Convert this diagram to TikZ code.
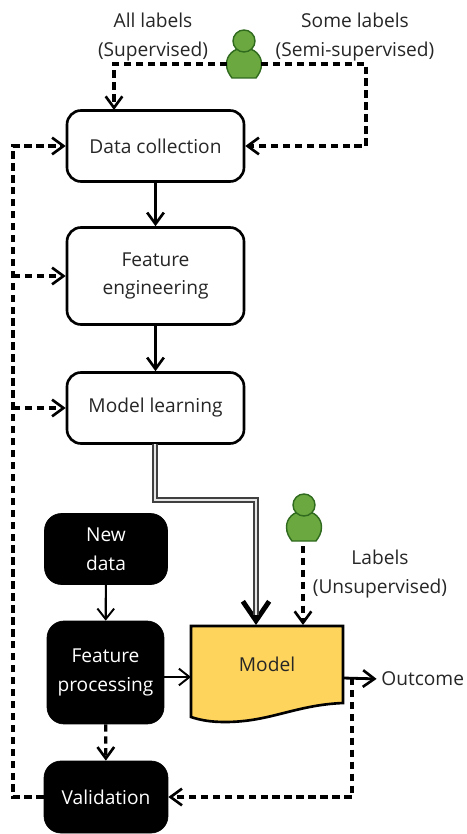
\documentclass[tikz,border=0pt]{standalone}
\usepackage{fontspec}
\setmainfont{Open Sans}
\usetikzlibrary{arrows.meta}
\definecolor{usergreen}{HTML}{6BA83F}
\definecolor{userdark}{HTML}{2F6A1E}
\definecolor{modelyellow}{HTML}{FFD45C}
\definecolor{textdark}{HTML}{262626}
\begin{document}
\begin{tikzpicture}[
    x=0.02cm, y=-0.02cm,
    every node/.style={font=\fontsize{10.9}{16.4}\selectfont, text=textdark, align=center, inner sep=0pt},
    stage/.style={draw=black, line width=1.5pt, fill=white, rounded corners=0.28cm, minimum width=3.54cm},
    blackstage/.style={draw=black, fill=black, text=white, rounded corners=0.34cm},
    arrow/.style={-{Straight Barb[length=6.5pt,width=9.5pt,line width=1.5pt]}, line width=1.6pt},
    dasharrow/.style={arrow, line width=1.9pt, dash pattern=on 4.2pt off 2.6pt},
    thinarrow/.style={-{Straight Barb[length=6pt,width=9.5pt,line width=1.1pt]}, line width=1.2pt},
    learnarrow/.style={line width=1.1pt, draw=black!75, double=black!10, double distance=1.3pt},
    userhead/.style={circle, draw=userdark, fill=usergreen, line width=.8pt, minimum size=0.44cm}
]

\useasboundingbox (0,0) rectangle (466,834);

% Training boxes
\node[stage, minimum height=1.42cm] (collect) at (155.5,146) {Data collection};
\node[stage, minimum height=1.94cm] (engineer) at (155.5,276) {Feature\\engineering};
\node[stage, minimum height=1.42cm] (learn) at (155.5,408) {Model learning};

% Prediction boxes
\node[blackstage, minimum width=2.46cm, minimum height=1.42cm] (newdata) at (106,549) {New\\data};
\node[blackstage, minimum width=2.34cm, minimum height=2.06cm] (process) at (105.5,672.5) {Feature\\processing};
\node[blackstage, minimum width=2.48cm, minimum height=1.44cm] (validate) at (106,797) {Validation};

% Model document
\draw[fill=modelyellow, draw=black, line width=1.5pt] (191,626) -- (343,626) -- (343,703)
    .. controls (295,705) and (270,722) .. (225,722) .. controls (210,722) and (200,720) .. (191,717) -- cycle;
\node[minimum width=3.04cm, minimum height=1.54cm] (model) at (267,664.5) {Model};

% Users
\draw[draw=userdark, fill=usergreen, line width=.8pt] (232,78) .. controls (229,74) and (226.5,70) .. (226.5,64)
    .. controls (226.5,55) and (234,48) .. (244,48) .. controls (254,48) and (261.5,55) .. (261.5,64)
    .. controls (261.5,70) and (259,74) .. (256,78) -- cycle;
\node[userhead] (user1) at (244,41) {};
\draw[draw=userdark, fill=usergreen, line width=.8pt] (292,541) .. controls (289,537) and (286.5,533) .. (286.5,527)
    .. controls (286.5,518) and (294,511) .. (304,511) .. controls (314,511) and (321.5,518) .. (321.5,527)
    .. controls (321.5,533) and (319,537) .. (316,541) -- cycle;
\node[userhead] (user2) at (304,505) {};

% Free ends
\coordinate (user1w) at (227,64);
\coordinate (user1e) at (261,64);
\coordinate (user2s) at (303,546);
\coordinate (modelin) at (191,677);
\coordinate (modelout) at (343,678);
\coordinate (collecttop) at (114,110);
\coordinate (learnout) at (155,444);
\coordinate (modeltop) at (256,625);
\coordinate (user2in) at (303,625);
\coordinate (loop) at (13,797);

% Labels
\node (alllabels) at (153,37) {All labels\\(Supervised)};
\node (somelabels) at (355,37) {Some labels\\(Semi-supervised)};
\node (unsuplabels) at (380,574) {Labels\\(Unsupervised)};
\node[anchor=west] (outcome) at (381,679) {Outcome};

% Solid arrows
\draw[arrow] (collect) -- (engineer);
\draw[arrow] (engineer) -- (learn);
\draw[thinarrow] (newdata) -- (process);
\draw[thinarrow] (process.east |- modelin) -- (modelin);
\draw[arrow, shorten >=2.5pt] (modelout) -- (outcome.west);

% Model learning to model
\draw[-{Straight Barb[length=11pt,width=15pt,line width=2.8pt]}, line width=1pt] ([yshift=0.4cm]modeltop) -- (modeltop);
\draw[learnarrow] (learnout) |- (200,500) -| ([yshift=0.2cm]modeltop);

% Label arrows
\draw[dasharrow] (user1w) -| (collecttop);
\draw[dasharrow] (user1e) -| (366,100) |- (collect.east);
\draw[dasharrow] (user2s) -- (user2in);
\draw[dasharrow] (process) -- (validate);

% Validation feedback
\draw[dasharrow] (352,678) |- (validate.east);
\draw[dasharrow] (validate.west) -- (loop) |- (collect.west);
\draw[dasharrow] (loop |- engineer.west) -- (engineer.west);
\draw[dasharrow] (loop |- learn.west) -- (learn.west);

\end{tikzpicture}
\end{document}
